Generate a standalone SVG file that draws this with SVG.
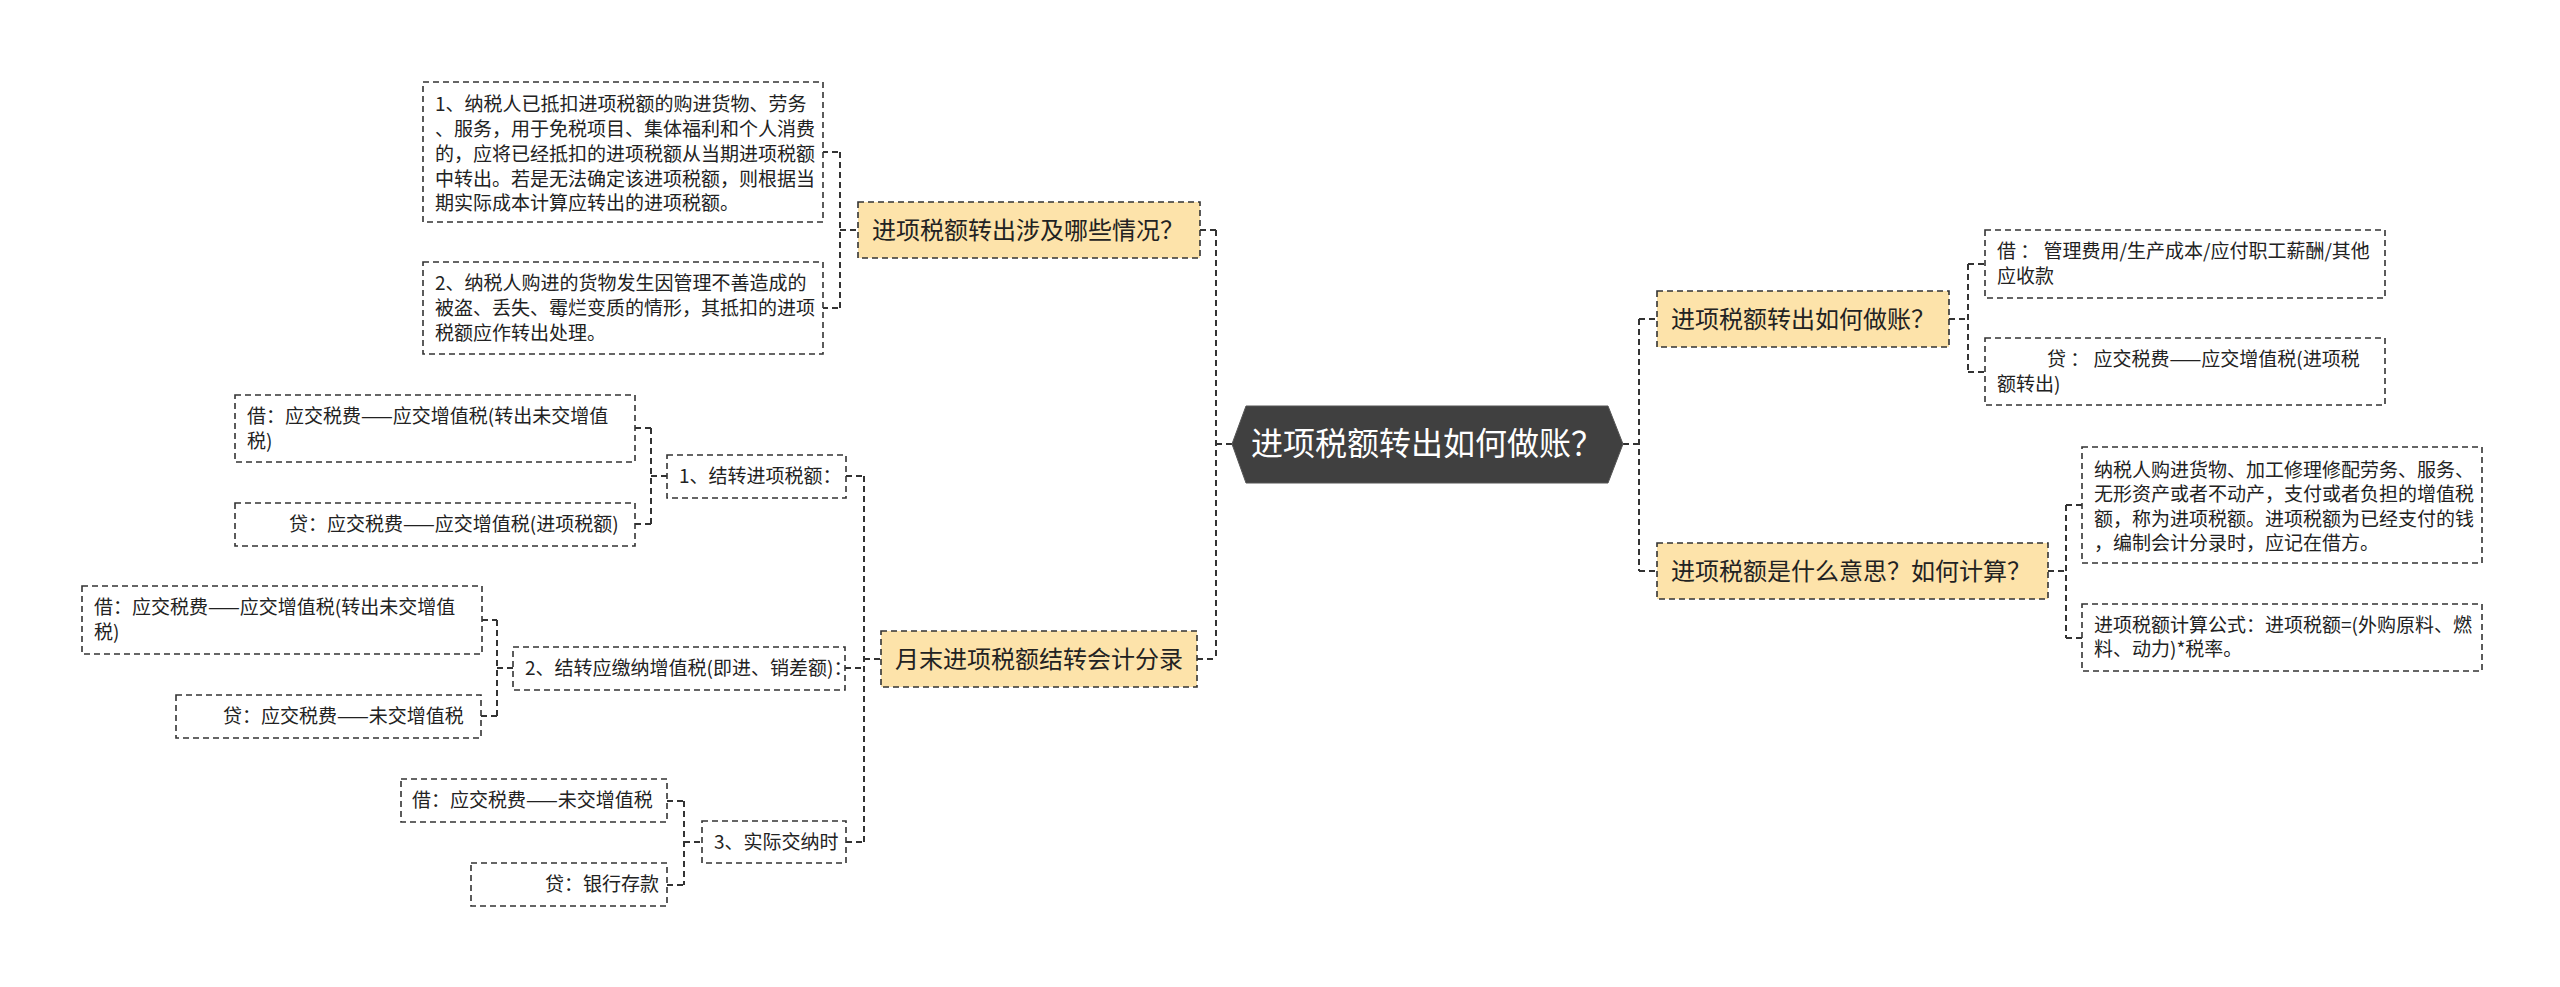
<svg xmlns="http://www.w3.org/2000/svg" width="2560" height="987" viewBox="0 0 2560 987">
<style>
text{font-family:"Noto Sans CJK SC","Noto Sans",sans-serif;fill:#222}
.leaf rect{fill:#fff;stroke:#333;stroke-width:1.6;stroke-dasharray:6 4}
.leaf text{font-size:19px}
.sub rect{fill:#fff;stroke:#333;stroke-width:1.6;stroke-dasharray:6 4}
.sub text{font-size:19px}
.branch rect{fill:#FDE3AA;stroke:#333;stroke-width:1.6;stroke-dasharray:6 4}
.branch text{font-size:24px}
#connectors path{fill:none;stroke:#333;stroke-width:2;stroke-dasharray:6 4}
</style>
<rect width="2560" height="987" fill="#fff"/>
<g id="connectors">
<path d="M1216 230V659M1200 230H1216M1197 659H1216M1216 444H1232"/>
<path d="M1639 319V571M1623 444H1639M1639 319H1657M1639 571H1657"/>
<path d="M1968 264V372M1949 319H1968M1968 264H1985M1968 372H1985"/>
<path d="M2066 505V638M2048 571H2066M2066 505H2082M2066 638H2082"/>
<path d="M840 152V308M822 152H840M822 308H840M840 230H858"/>
<path d="M864 476V842M846 476H864M845 668H864M846 842H864M864 659H881"/>
<path d="M651 428V524M635 428H651M635 524H651M651 476H667"/>
<path d="M497 620V716M482 620H497M481 716H497M497 668H513"/>
<path d="M684 801V885M667 801H684M667 885H684M684 842H702"/>
</g>
<g id="root">
<polygon points="1232,444 1246,406 1608,406 1623,444 1608,483 1246,483" fill="#404040" stroke="#555" stroke-width="1"/>
<text x="1427" y="455" font-size="32" text-anchor="middle" style="fill:#fff">进项税额转出如何做账？</text>
</g>
<g id="branch-r1" class="branch"><rect x="1657" y="291" width="292" height="56"/><text x="1671" y="327.5">进项税额转出如何做账？</text></g>
<g id="branch-r2" class="branch"><rect x="1657" y="543" width="391" height="56"/><text x="1671" y="579.5">进项税额是什么意思？如何计算？</text></g>
<g id="leaf-r1a" class="leaf"><rect x="1985" y="230" width="400" height="68"/><text x="1997" y="258">借 ： 管理费用/生产成本/应付职工薪酬/其他</text><text x="1997" y="283">应收款</text></g>
<g id="leaf-r1b" class="leaf"><rect x="1985" y="338" width="400" height="67"/><text x="2047" y="365.5">贷 ： 应交税费——应交增值税(进项税</text><text x="1997" y="390.5">额转出)</text></g>
<g id="leaf-r2a" class="leaf"><rect x="2082" y="447" width="400" height="116"/><text x="2094" y="476.5">纳税人购进货物、加工修理修配劳务、服务、</text><text x="2094" y="501">无形资产或者不动产，支付或者负担的增值税</text><text x="2094" y="525.5">额，称为进项税额。进项税额为已经支付的钱</text><text x="2094" y="550">，编制会计分录时，应记在借方。</text></g>
<g id="leaf-r2b" class="leaf"><rect x="2082" y="604" width="400" height="67"/><text x="2094" y="631.5">进项税额计算公式：进项税额=(外购原料、燃</text><text x="2094" y="656">料、动力)*税率。</text></g>
<g id="branch-a" class="branch"><rect x="858" y="202" width="342" height="56"/><text x="872" y="238.5">进项税额转出涉及哪些情况？</text></g>
<g id="leaf-a1" class="leaf"><rect x="423" y="82" width="400" height="140"/><text x="435" y="111">1、纳税人已抵扣进项税额的购进货物、劳务</text><text x="435" y="136">、服务，用于免税项目、集体福利和个人消费</text><text x="435" y="161">的，应将已经抵扣的进项税额从当期进项税额</text><text x="435" y="185.5">中转出。若是无法确定该进项税额，则根据当</text><text x="435" y="210">期实际成本计算应转出的进项税额。</text></g>
<g id="leaf-a2" class="leaf"><rect x="423" y="262" width="400" height="92"/><text x="435" y="289.5">2、纳税人购进的货物发生因管理不善造成的</text><text x="435" y="314.5">被盗、丢失、霉烂变质的情形，其抵扣的进项</text><text x="435" y="339.5">税额应作转出处理。</text></g>
<g id="branch-b" class="branch"><rect x="881" y="631" width="316" height="56"/><text x="895" y="667.5">月末进项税额结转会计分录</text></g>
<g id="sub-1" class="sub"><rect x="667" y="455" width="179" height="43"/><text x="679" y="483">1、结转进项税额：</text></g>
<g id="leaf-1a" class="leaf"><rect x="235" y="395" width="400" height="67"/><text x="247" y="422.5">借：应交税费——应交增值税(转出未交增值</text><text x="247" y="447.5">税)</text></g>
<g id="leaf-1b" class="leaf"><rect x="235" y="503" width="400" height="43"/><text x="289" y="531">贷：应交税费——应交增值税(进项税额)</text></g>
<g id="sub-2" class="sub"><rect x="513" y="647" width="332" height="43"/><text x="525" y="675">2、结转应缴纳增值税(即进、销差额)：</text></g>
<g id="leaf-2a" class="leaf"><rect x="82" y="586" width="400" height="68"/><text x="94" y="614">借：应交税费——应交增值税(转出未交增值</text><text x="94" y="639">税)</text></g>
<g id="leaf-2b" class="leaf"><rect x="176" y="695" width="305" height="43"/><text x="223" y="723">贷：应交税费——未交增值税</text></g>
<g id="sub-3" class="sub"><rect x="702" y="821" width="144" height="42"/><text x="714" y="849">3、实际交纳时</text></g>
<g id="leaf-3a" class="leaf"><rect x="401" y="779" width="266" height="43"/><text x="412" y="807">借：应交税费——未交增值税</text></g>
<g id="leaf-3b" class="leaf"><rect x="471" y="863" width="196" height="43"/><text x="545" y="891">贷：银行存款</text></g>
</svg>
